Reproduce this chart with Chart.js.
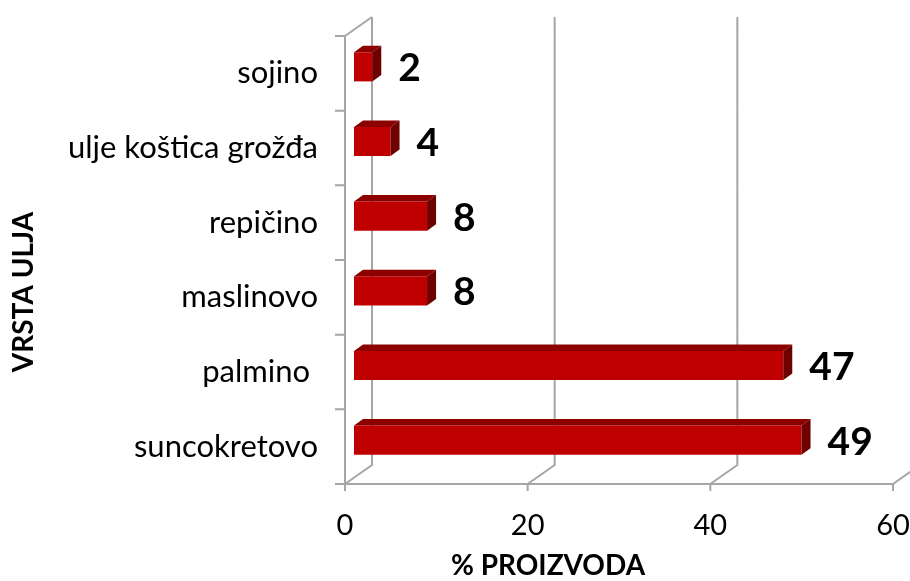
<!DOCTYPE html>
<html>
<head>
<meta charset="utf-8">
<script src="https://cdn.jsdelivr.net/npm/chart.js@4.4.1/dist/chart.umd.min.js"></script>
<style>
  html, body { margin: 0; padding: 0; background: #ffffff; }
  #wrap { width: 910px; height: 581px; }
</style>
</head>
<body>
<div id="wrap"><canvas id="c" width="910" height="581"></canvas></div>
<script>
// ---- data ----
const categories = ['sojino', 'ulje koštica grožđa', 'repičino', 'maslinovo', 'palmino ', 'suncokretovo'];
const values = [2, 4, 8, 8, 47, 49];
const valueTicks = [0, 20, 40, 60];
const xAxisTitle = '% PROIZVODA';
const yAxisTitle = 'VRSTA ULJA';

// ---- style ----
const FONT = 'Lato, "Liberation Sans", sans-serif';
const GRID = '#a6a6a6';
const WALL_DX = 27, WALL_DY = -19;   // depth of the 3D box
const BAR_DX = 9, BAR_DY = -6.5;     // bar front-face offset from front plane
const BAR_DEPTH_X = 9, BAR_DEPTH_Y = -6.5;

const threeD = {
  id: 'threeD',
  beforeDatasetsDraw(chart) {
    const ctx = chart.ctx;
    const a = chart.chartArea;
    const xs = chart.scales.x;
    ctx.save();
    ctx.strokeStyle = GRID;
    ctx.lineWidth = 2;
    ctx.lineCap = 'butt';
    ctx.beginPath();
    valueTicks.forEach(v => {
      const x = xs.getPixelForValue(v);
      ctx.moveTo(x + WALL_DX, a.top + WALL_DY);
      ctx.lineTo(x + WALL_DX, a.bottom + WALL_DY);
      ctx.lineTo(x, a.bottom);
      ctx.moveTo(x, a.bottom);
      ctx.lineTo(x, a.bottom + 7);
    });
    ctx.moveTo(a.left - 10, a.bottom);
    ctx.lineTo(a.right, a.bottom);
    ctx.moveTo(a.left, a.top);
    ctx.lineTo(a.left, a.bottom);
    ctx.moveTo(a.left, a.top);
    ctx.lineTo(a.left + WALL_DX, a.top + WALL_DY);
    const n = categories.length;
    for (let i = 0; i <= n; i++) {
      const y = a.top + (a.bottom - a.top) * i / n;
      ctx.moveTo(a.left - 10, y);
      ctx.lineTo(a.left, y);
    }
    ctx.stroke();
    ctx.restore();
    ctx.save();
    ctx.translate(BAR_DX, BAR_DY);
  },
  afterDatasetsDraw(chart) {
    const ctx = chart.ctx;
    ctx.restore();
    const meta = chart.getDatasetMeta(0);
    ctx.save();
    meta.data.forEach((bar, i) => {
      const p = bar.getProps(['x', 'y', 'base', 'height'], true);
      const xl = p.base + BAR_DX, xr = p.x + BAR_DX;
      const yt = p.y - p.height / 2 + BAR_DY, yb = p.y + p.height / 2 + BAR_DY;
      ctx.fillStyle = '#8c0000';
      ctx.beginPath();
      ctx.moveTo(xl, yt);
      ctx.lineTo(xl + BAR_DEPTH_X, yt + BAR_DEPTH_Y);
      ctx.lineTo(xr + BAR_DEPTH_X, yt + BAR_DEPTH_Y);
      ctx.lineTo(xr, yt);
      ctx.closePath();
      ctx.fill();
      ctx.fillStyle = '#6e0000';
      ctx.beginPath();
      ctx.moveTo(xr, yt);
      ctx.lineTo(xr + BAR_DEPTH_X, yt + BAR_DEPTH_Y);
      ctx.lineTo(xr + BAR_DEPTH_X, yb + BAR_DEPTH_Y);
      ctx.lineTo(xr, yb);
      ctx.closePath();
      ctx.fill();
      ctx.fillStyle = '#000';
      ctx.font = 'bold 39px ' + FONT;
      ctx.textAlign = 'left';
      ctx.textBaseline = 'middle';
      ctx.fillText(String(values[i]), xr + 26, p.y + BAR_DY + 2);
    });
    ctx.restore();
  },
  afterDraw(chart) {
    const ctx = chart.ctx;
    ctx.save();
    ctx.fillStyle = '#000';
    ctx.font = 'bold 28px ' + FONT;
    ctx.textAlign = 'center';
    ctx.textBaseline = 'middle';
    ctx.fillText(xAxisTitle, 548, 566);
    ctx.translate(24, 292);
    ctx.rotate(-Math.PI / 2);
    ctx.fillText(yAxisTitle, 0, 0);
    ctx.restore();
  }
};

new Chart(document.getElementById('c'), {
  type: 'bar',
  data: {
    labels: categories,
    datasets: [{
      data: values,
      backgroundColor: '#c00000',
      borderWidth: 0,
      barPercentage: 0.39,
      categoryPercentage: 1,
      clip: false
    }]
  },
  options: {
    indexAxis: 'y',
    responsive: false,
    devicePixelRatio: 1,
    animation: false,
    layout: { padding: { top: 36, right: 17, left: 0, bottom: 0 } },
    plugins: { legend: { display: false }, tooltip: { enabled: false } },
    scales: {
      x: {
        min: 0, max: 60,
        afterBuildTicks: s => { s.ticks = valueTicks.map(v => ({ value: v })); },
        grid: { display: false },
        border: { display: false },
        ticks: { padding: 16, color: '#000', font: { family: FONT, size: 29 } },
        afterFit: s => { s.height = 97; s.paddingLeft = 0; s.paddingRight = 0; }
      },
      y: {
        grid: { display: false },
        border: { display: false },
        ticks: { padding: 19, color: '#000', font: { family: FONT, size: 31 } },
        afterFit: s => { s.width = 345; s.paddingTop = 0; s.paddingBottom = 0; }
      }
    }
  },
  plugins: [threeD]
});
</script>
</body>
</html>
